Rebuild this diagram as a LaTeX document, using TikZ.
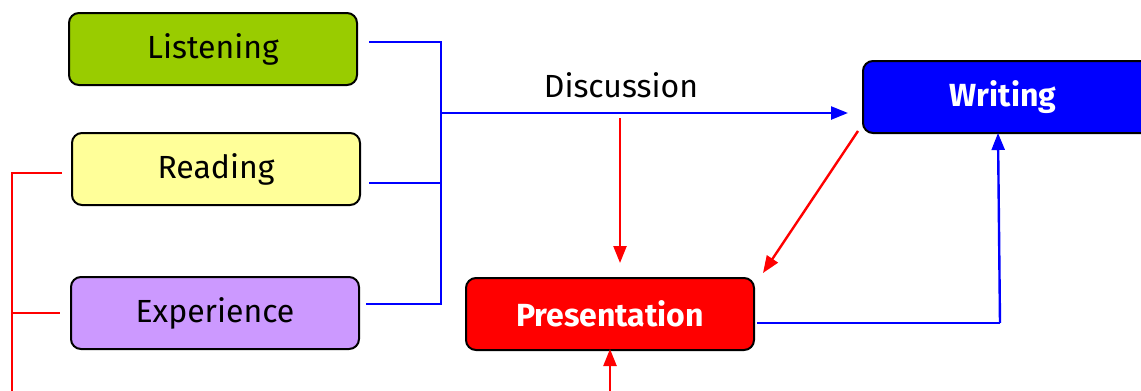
\documentclass[tikz,border=0pt]{standalone}
\usepackage{fontspec}
\setmainfont{Fira Sans}
\usetikzlibrary{arrows.meta}
\begin{document}
\begin{tikzpicture}[x=1pt,y=-1pt,
  box/.style={draw=black,line width=2pt,rounded corners=10pt,minimum width=288pt,minimum height=72pt,anchor=north west,inner sep=0pt,font=\fontsize{32}{36}\selectfont},
  bl/.style={draw=blue,line width=2.4pt},
  rd/.style={draw=red,line width=2.4pt},
  tip/.style={-{Triangle[length=17pt,width=13pt]}}]
\useasboundingbox (0,0) rectangle (1141,391);
\definecolor{lgreen}{HTML}{99CC00}
\definecolor{lyellow}{HTML}{FFFF99}
\definecolor{lpurple}{HTML}{CC99FF}
\node[box,fill=lgreen,text width=288pt,align=center] (lis) at (68,12) {Listening};
\node[box,fill=lyellow,text width=288pt,align=center] (rea) at (71,132) {Reading};
\node[box,fill=lpurple,text width=288pt,align=center] (exp) at (70,276) {Experience};
\node[box,fill=blue,text=white,font=\fontsize{32}{36}\selectfont\bfseries,minimum width=300pt] (wri) at (862,60) {\makebox[290pt]{Writing\hspace{20pt}}};
\node[box,fill=red,text=white,font=\fontsize{32}{36}\selectfont\bfseries] (pre) at (465,277) {Presentation};
\node[font=\fontsize{32}{36}\selectfont] (dis) at (621,85) {Discussion};
% coordinates
\coordinate (j1) at (441,42);
\coordinate (j2) at (441,183);
\coordinate (j3) at (441,304);
\coordinate (jm) at (441,113);
\coordinate (l1) at (369,42);
\coordinate (r1) at (369,183);
\coordinate (e1) at (366,304);
\coordinate (wt) at (848,113);
\draw[bl] (l1) -- (j1) -- (j3) -- (e1);
\draw[bl] (r1) -- (j2);
\draw[bl,tip] (jm) -- (wt);
\coordinate (ds) at (620,118);
\coordinate (dt) at (620,263);
\draw[rd,tip] (ds) -- (dt);
\coordinate (ws) at (858,131);
\coordinate (pt) at (763,273);
\draw[rd,tip] (ws) -- (pt);
\coordinate (ps) at (757,323);
\coordinate (pc) at (1000,323);
\coordinate (wb) at (998,133);
\draw[bl] (ps) -- (pc);
\draw[bl,tip] (pc) -- (wb);
\coordinate (bs) at (610,395);
\coordinate (bt) at (610,349);
\draw[rd,tip] (bs) -- (bt);
\coordinate (ra) at (12,173);
\coordinate (rb) at (62,173);
\coordinate (rc) at (12,313);
\coordinate (rdd) at (60,313);
\coordinate (re) at (12,395);
\draw[rd] (rb) -- (ra) -- (re);
\draw[rd] (rc) -- (rdd);
\end{tikzpicture}
\end{document}
